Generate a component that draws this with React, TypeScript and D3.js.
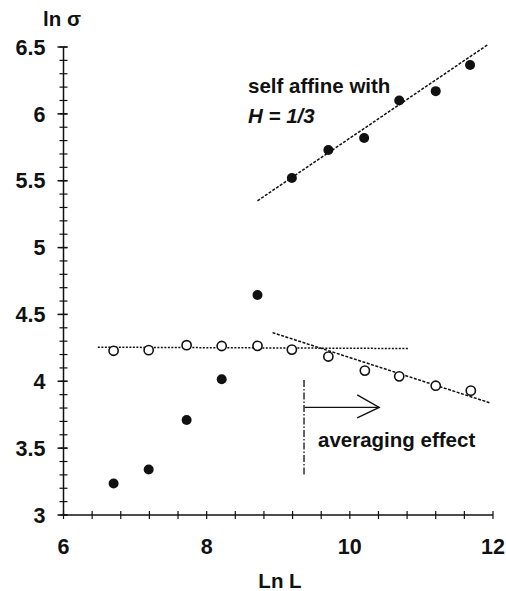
import React from "react";
import * as d3 from "d3";

const lnL = [6.7, 7.19, 7.72, 8.21, 8.71, 9.19, 9.7, 10.21, 10.69, 11.2, 11.69];
const filledLow = [3.235, 3.34, 3.71, 4.015, 4.645];
const filledHighX = [9.19, 9.7, 10.2, 10.69, 11.2, 11.68];
const filledHigh = [5.52, 5.73, 5.82, 6.1, 6.17, 6.365];
const openVals = [4.228, 4.233, 4.27, 4.264, 4.265, 4.237, 4.185, 4.08, 4.037, 3.967, 3.93];

const flatFit: [number, number][] = [[6.48, 4.255], [10.82, 4.245]];
const decFit: [number, number][] = [[8.92, 4.364], [11.95, 3.84]];
const riseFit: [number, number][] = [[8.71, 5.35], [11.92, 6.515]];
const marker: [number, number][] = [[9.36, 4.01], [9.36, 3.3]];
const arrow: [number, number][] = [[9.37, 3.805], [10.41, 3.805]];

const xTicks = [6, 8, 10, 12];
const yTicks = [3, 3.5, 4, 4.5, 5, 5.5, 6, 6.5];
const yTickLabels = ["3", "3.5", "4", "4.5", "5", "5.5", "6", "6.5"];

export default function App() {
  const W = 506, H = 591;
  const x = d3.scaleLinear().domain([6, 12]).range([63.5, 493]);
  const y = d3.scaleLinear().domain([3, 6.5]).range([515, 47]);
  const line = d3.line<[number, number]>().x(d => x(d[0])).y(d => y(d[1]));
  const font = "'Liberation Sans', Arial, Helvetica, sans-serif";

  const xMinor = d3.range(6, 12.001, 0.4);
  const yMinor = d3.range(3, 6.501, 0.1);

  const ax = x(arrow[1][0]);
  const ay = y(arrow[1][1]);

  return (
    <svg width={W} height={H} style={{ position: "absolute", left: 0, top: 0, background: "#fff" }}>
      <g stroke="#111" strokeWidth={1.5} fill="none">
        <line x1={x(6)} y1={y(3)} x2={x(6)} y2={y(6.5)} />
        <line x1={x(6)} y1={y(3)} x2={x(12)} y2={y(3)} />
        {yMinor.map((v, i) => (
          <line key={"ym" + i} x1={x(6) - 4} x2={x(6) + 4} y1={y(v)} y2={y(v)} strokeWidth={1.2} />
        ))}
        {yTicks.map((v, i) => (
          <line key={"yM" + i} x1={x(6) - 6} x2={x(6) + 4} y1={y(v)} y2={y(v)} />
        ))}
        {xMinor.map((v, i) => (
          <line key={"xm" + i} x1={x(v)} x2={x(v)} y1={y(3) - 4} y2={y(3) + 4} strokeWidth={1.2} />
        ))}
      </g>
      <g fontFamily={font} fontWeight="bold" fontSize={20.5} fill="#111">
        {yTicks.map((v, i) => (
          <text key={"yl" + i} x={x(6) - 18} y={y(v)} dy="0.36em" textAnchor="end" fontSize={21.5}>{yTickLabels[i]}</text>
        ))}
        {xTicks.map((v, i) => (
          <text key={"xl" + i} x={x(v)} y={554} textAnchor="middle" fontSize={21.5}>{String(v)}</text>
        ))}
        <text x={43} y={26}>ln  σ</text>
        <text x={280} y={588} textAnchor="middle">Ln L</text>
        <text x={248} y={93}>self affine with</text>
        <text x={248} y={123} fontStyle="italic">H = 1/3</text>
        <text x={318} y={447}>averaging effect</text>
      </g>
      <g fill="none" stroke="#111">
        <path d={line(flatFit) || ""} strokeWidth={1.5} strokeDasharray="2,1.5" />
        <path d={line(decFit) || ""} strokeWidth={1.5} strokeDasharray="3,1.5" />
        <path d={line(riseFit) || ""} strokeWidth={1.5} strokeDasharray="3,1.5" />
        <path d={line(marker) || ""} strokeWidth={1.3} strokeDasharray="7,2,1.5,2" />
        <path d={line(arrow) || ""} strokeWidth={1.4} />
        <path d={`M${ax - 22},${ay - 12.5}L${ax},${ay}L${ax - 22},${ay + 10.5}`} strokeWidth={1.4} />
      </g>
      <g>
        {openVals.map((v, i) => (
          <circle key={"o" + i} cx={x(lnL[i])} cy={y(v)} r={4.6} fill="#fff" stroke="#111" strokeWidth={1.6} />
        ))}
        {filledLow.map((v, i) => (
          <circle key={"fl" + i} cx={x(lnL[i])} cy={y(v)} r={5} fill="#111" />
        ))}
        {filledHigh.map((v, i) => (
          <circle key={"fh" + i} cx={x(filledHighX[i])} cy={y(v)} r={5} fill="#111" />
        ))}
      </g>
    </svg>
  );
}
